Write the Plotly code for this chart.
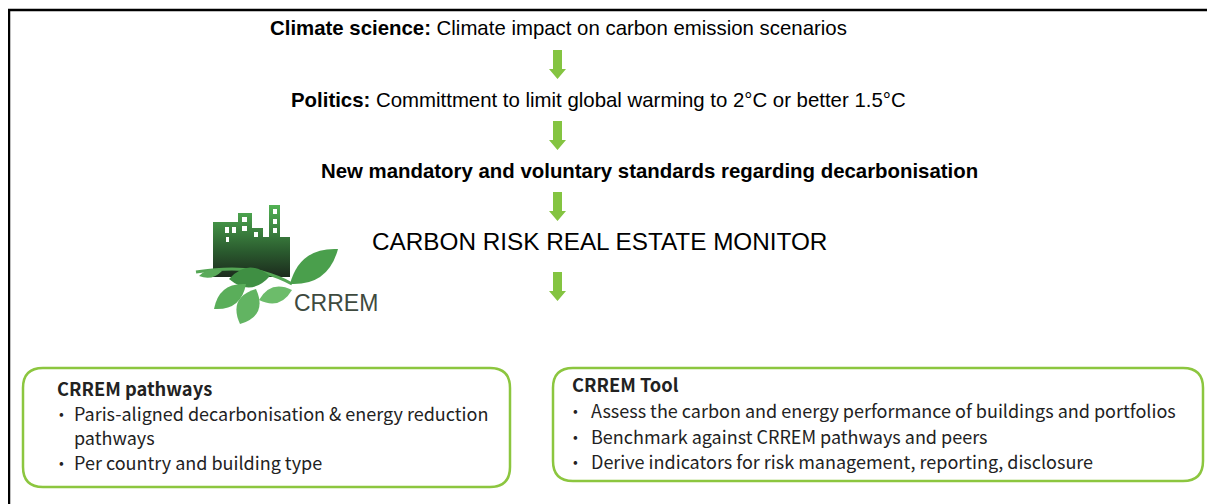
import plotly.graph_objects as go

W, H = 1215, 504
OFF = 8  # page body margin
GREEN = "#84c441"
BOX_GREEN = "#8cc63f"

# ---- content ----
flow_lines = ["<b>Climate science:</b> Climate impact on carbon emission scenarios",
              "<b>Politics:</b> Committment to limit global warming to 2°C or better 1.5°C",
              "<b>New mandatory and voluntary standards regarding decarbonisation</b>"]
monitor_title = "CARBON RISK REAL ESTATE MONITOR"
logo_text = "CRREM"
left_title = "CRREM pathways"
left_items = ["Paris-aligned decarbonisation & energy reduction", "pathways", "Per country and building type"]
left_bullets = [True, False, True]
right_title = "CRREM Tool"
right_items = ["Assess the carbon and energy performance of buildings and portfolios",
               "Benchmark against CRREM pathways and peers",
               "Derive indicators for risk management, reporting, disclosure"]

fig = go.Figure()
shapes = []
ann = []

# frame (top + left lines)
shapes.append(dict(type="line", x0=8, x1=W, y0=10, y1=10, line=dict(color="black", width=2.5)))
shapes.append(dict(type="line", x0=9, x1=9, y0=9, y1=H, line=dict(color="black", width=2.5)))

FONT = "Liberation Sans, Arial"
flow_pos = [(558, 28), (598, 100), (649, 171)]
for (x, y), t in zip(flow_pos, flow_lines):
    ann.append(dict(x=x, y=y, text=t, font=dict(size=20.4, family=FONT, color="black")))
ann.append(dict(x=599, y=241, text=monitor_title, font=dict(size=24.3, family=FONT, color="black")))

# arrows
def arrow(cx, top):
    sw, hw, sl, hl = 4.5, 8.5, 19, 10
    return (f"M {cx-sw} {top} L {cx+sw} {top} L {cx+sw} {top+sl} L {cx+hw} {top+sl} "
            f"L {cx} {top+sl+hl} L {cx-hw} {top+sl} L {cx-sw} {top+sl} Z")
for t in [50, 121, 192, 272]:
    shapes.append(dict(type="path", path=arrow(557.5, t), fillcolor=GREEN, line=dict(width=0)))

# rounded boxes
def rrect(x0, y0, x1, y1, r):
    return (f"M {x0+r} {y0} L {x1-r} {y0} Q {x1} {y0} {x1} {y0+r} L {x1} {y1-r} Q {x1} {y1} {x1-r} {y1} "
            f"L {x0+r} {y1} Q {x0} {y1} {x0} {y1-r} L {x0} {y0+r} Q {x0} {y0} {x0+r} {y0} Z")
shapes.append(dict(type="path", path=rrect(23, 368, 510, 487, 20), line=dict(color=BOX_GREEN, width=2.5)))
shapes.append(dict(type="path", path=rrect(553, 368, 1203, 481, 20), line=dict(color=BOX_GREEN, width=2.5)))

BFONT = "Noto Sans CJK JP"
TC = "#222222"
ann.append(dict(x=55, y=388, xanchor="left", text="<b>" + left_title + "</b>",
                font=dict(size=18.3, family=BFONT, color=TC)))
ys = [413, 437, 462]
for y, s, b in zip(ys, left_items, left_bullets):
    if b:
        ann.append(dict(x=57, y=y, xanchor="left", text="•", font=dict(size=14, family=BFONT, color=TC)))
    ann.append(dict(x=72, y=y, xanchor="left", text=s, font=dict(size=18, family=BFONT, color=TC)))
ann.append(dict(x=570, y=384, xanchor="left", text="<b>" + right_title + "</b>",
                font=dict(size=18.3, family=BFONT, color=TC)))
ys = [410, 436, 461]
for y, s in zip(ys, right_items):
    ann.append(dict(x=571, y=y, xanchor="left", text="•", font=dict(size=14, family=BFONT, color=TC)))
    ann.append(dict(x=589, y=y, xanchor="left", text=s, font=dict(size=18, family=BFONT, color=TC)))

# ---- logo ----
bx = [213, 213, 238, 238, 252, 252, 263, 263, 269, 269, 280, 280, 290, 290, 213]
by = [277, 222, 222, 213, 213, 228, 228, 237, 237, 205, 205, 237, 237, 277, 277]
fig.add_trace(go.Scatter(x=bx, y=by, mode="lines", fill="toself", line=dict(width=0),
                         fillgradient=dict(type="vertical",
                                           colorscale=[[0, "#1c2b1d"], [0.35, "#2a5a2e"], [1, "#52b254"]]),
                         hoverinfo="skip", showlegend=False))
# windows
for (x0, y0, x1, y1) in [(225, 227, 229, 233), (232, 227, 236, 233), (226, 237, 229, 242),
                         (242, 217, 247, 222), (242, 226, 247, 231), (254, 232, 258, 237),
                         (273, 209, 277, 214), (273, 219, 277, 224), (273, 228, 277, 233)]:
    shapes.append(dict(type="rect", x0=x0, x1=x1, y0=y0, y1=y1, fillcolor="white", line=dict(width=0)))

def leaf(x0, y0, x1, y1, w):
    mx, my = (x0 + x1) / 2, (y0 + y1) / 2
    dx, dy = x1 - x0, y1 - y0
    L = (dx * dx + dy * dy) ** 0.5
    px, py = -dy / L * w, dx / L * w
    return f"M {x0} {y0} Q {mx+px} {my+py} {x1} {y1} Q {mx-px} {my-py} {x0} {y0} Z"

# branch
shapes.append(dict(type="path", path="M 196 272 Q 235 266 262 272 Q 280 277 292 284",
                   line=dict(color="#55a655", width=3)))
leaves = [
    (290, 284, 338, 249, 24, "#4a9f4c"),
    (270, 276, 229, 279, 20, "#3f8f43"),
    (246, 284, 214, 309, 18, "#5aae5a"),
    (256, 289, 240, 324, 22, "#62b462"),
    (259, 300, 292, 290, 16, "#6cbc6a"),
    (222, 271, 199, 276, 8, "#5aaa5a"),
]
for x0, y0, x1, y1, w, c in leaves:
    shapes.append(dict(type="path", path=leaf(x0, y0, x1, y1, w), fillcolor=c, line=dict(width=0)))

ann.append(dict(x=292, y=303, xanchor="left", text=logo_text,
                font=dict(size=23, family="Liberation Sans Narrow, Liberation Sans", color="#3e4a3e")))

for a in ann:
    a.setdefault("xref", "x")
    a.setdefault("yref", "y")
    a.setdefault("showarrow", False)
    a.setdefault("yanchor", "middle")
    a.setdefault("xanchor", "center")

fig.update_layout(width=W - OFF, height=H - OFF, margin=dict(l=0, r=0, t=0, b=0, pad=0),
                  paper_bgcolor="white", plot_bgcolor="white",
                  xaxis=dict(range=[OFF, W], visible=False, fixedrange=True),
                  yaxis=dict(range=[H, OFF], visible=False, fixedrange=True),
                  shapes=shapes, annotations=ann, showlegend=False)
fig.write_html("out.html")
